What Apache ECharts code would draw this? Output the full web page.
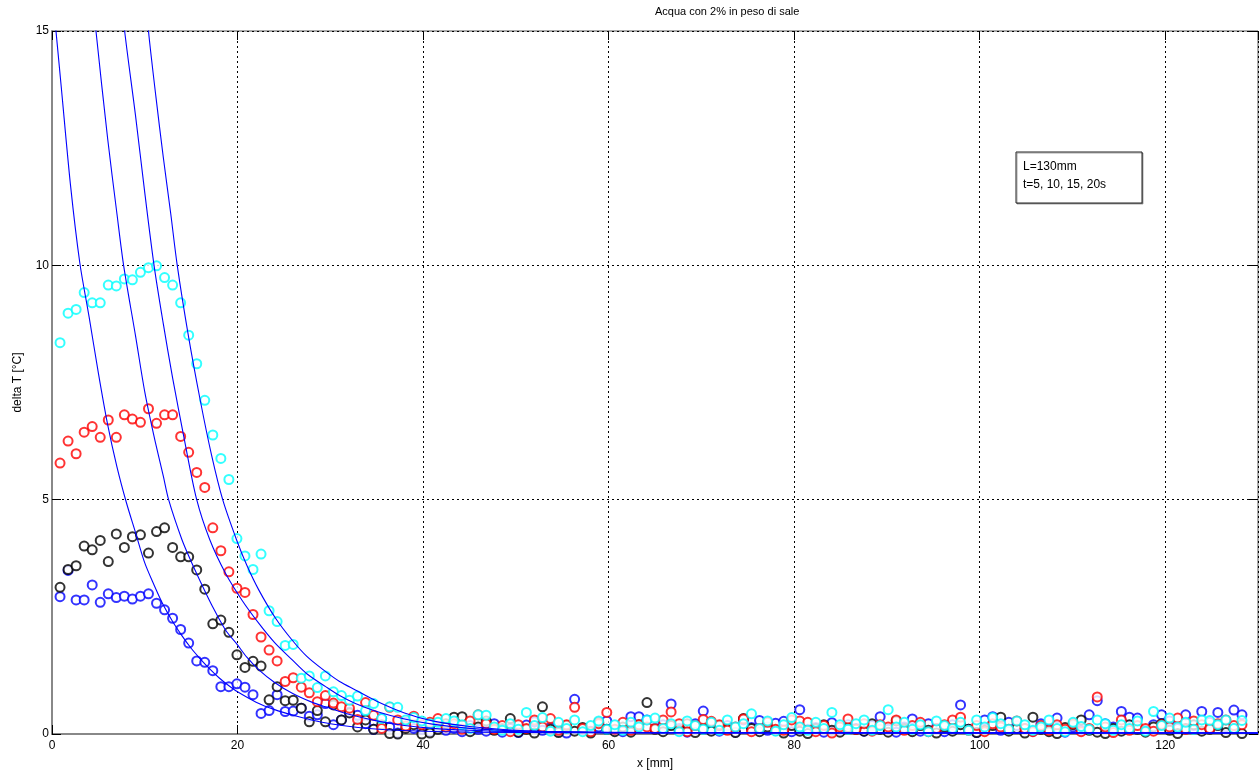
<!DOCTYPE html>
<html>
<head>
<meta charset="utf-8">
<script src="https://cdn.jsdelivr.net/npm/echarts@6/dist/echarts.min.js"></script>
<style>
  html, body { margin: 0; padding: 0; background: #fff; }
  #chart { width: 1259px; height: 778px; }
</style>
</head>
<body>
<div id="chart"></div>
<script>
// Sample spacing of the thermocouple readings along x [mm]
const X_STEP = 0.8667;

// Axis tick labels
const X_TICKS = [0, 20, 40, 60, 80, 100, 120];
const Y_TICKS = [0, 5, 10, 15];

// Measured delta T [°C] at x = k * X_STEP, k = 1..148
const tBlue = [
  2.93, 3.49, 2.86, 2.86, 3.18, 2.81, 2.99, 2.91, 2.94, 2.88,
  2.94, 2.99, 2.79, 2.65, 2.47, 2.23, 1.94, 1.56, 1.53, 1.35,
  1.01, 1.01, 1.07, 1.00, 0.84, 0.44, 0.50, 0.84, 0.48, 0.49,
  0.55, 0.38, 0.41, 0.65, 0.20, 0.30, 0.47, 0.40, 0.22, 0.10,
  0.33, 0.15, 0.02, 0.25, 0.12, 0.10, 0.05, 0.15, 0.08, 0.12,
  0.05, 0.18, 0.10, 0.06, 0.22, 0.04, 0.12, 0.03, 0.19, 0.26,
  0.08, 0.14, 0.05, 0.02, 0.74, 0.10, 0.06, 0.15, 0.28, 0.08,
  0.05, 0.37, 0.37, 0.30, 0.12, 0.20, 0.64, 0.12, 0.04, 0.22,
  0.49, 0.10, 0.06, 0.18, 0.04, 0.30, 0.14, 0.29, 0.08, 0.23,
  0.27, 0.05, 0.52, 0.10, 0.14, 0.04, 0.24, 0.08, 0.20, 0.12,
  0.06, 0.18, 0.37, 0.10, 0.04, 0.15, 0.32, 0.06, 0.22, 0.12,
  0.05, 0.20, 0.62, 0.10, 0.03, 0.30, 0.37, 0.08, 0.25, 0.18,
  0.12, 0.06, 0.22, 0.10, 0.34, 0.04, 0.15, 0.08, 0.41, 0.71,
  0.22, 0.15, 0.48, 0.36, 0.34, 0.08, 0.20, 0.41, 0.28, 0.12,
  0.41, 0.18, 0.48, 0.25, 0.46, 0.15, 0.51, 0.41
];
const tBlack = [
  3.13, 3.51, 3.59, 4.01, 3.93, 4.13, 3.68, 4.27, 3.98, 4.21,
  4.25, 3.86, 4.32, 4.40, 3.98, 3.78, 3.78, 3.50, 3.09, 2.35,
  2.43, 2.17, 1.69, 1.42, 1.55, 1.45, 0.73, 1.01, 0.71, 0.72,
  0.55, 0.26, 0.50, 0.26, 0.62, 0.30, 0.45, 0.15, 0.30, 0.10,
  0.20, 0.01, 0.00, 0.12, 0.20, 0.00, 0.02, 0.10, 0.22, 0.36,
  0.37, 0.05, 0.15, 0.28, 0.08, 0.12, 0.33, 0.04, 0.10, 0.02,
  0.58, 0.10, 0.03, 0.18, 0.06, 0.14, 0.02, 0.25, 0.10, 0.05,
  0.15, 0.04, 0.20, 0.67, 0.10, 0.05, 0.18, 0.08, 0.22, 0.03,
  0.12, 0.06, 0.18, 0.10, 0.03, 0.33, 0.12, 0.05, 0.15, 0.08,
  0.02, 0.18, 0.06, 0.01, 0.12, 0.20, 0.08, 0.04, 0.14, 0.10,
  0.06, 0.22, 0.10, 0.04, 0.28, 0.12, 0.05, 0.18, 0.08, 0.02,
  0.15, 0.06, 0.20, 0.10, 0.03, 0.08, 0.18, 0.36, 0.06, 0.12,
  0.02, 0.36, 0.10, 0.05, 0.01, 0.14, 0.20, 0.30, 0.08, 0.04,
  0.01, 0.12, 0.06, 0.20, 0.10, 0.04, 0.15, 0.22, 0.08, 0.01,
  0.12, 0.20, 0.06, 0.10, 0.18, 0.03, 0.12, 0.01
];
const tRed = [
  5.78, 6.25, 5.98, 6.44, 6.56, 6.33, 6.70, 6.33, 6.81, 6.72,
  6.65, 6.94, 6.63, 6.81, 6.81, 6.35, 6.01, 5.58, 5.26, 4.40,
  3.91, 3.46, 3.11, 3.02, 2.55, 2.07, 1.79, 1.56, 1.12, 1.20,
  1.00, 0.88, 0.69, 0.82, 0.66, 0.58, 0.55, 0.31, 0.67, 0.40,
  0.12, 0.57, 0.30, 0.17, 0.38, 0.20, 0.25, 0.33, 0.15, 0.22,
  0.10, 0.28, 0.41, 0.22, 0.10, 0.18, 0.05, 0.20, 0.12, 0.30,
  0.15, 0.33, 0.08, 0.20, 0.57, 0.12, 0.05, 0.22, 0.46, 0.10,
  0.25, 0.08, 0.20, 0.15, 0.12, 0.30, 0.47, 0.22, 0.05, 0.18,
  0.31, 0.27, 0.20, 0.08, 0.15, 0.32, 0.05, 0.12, 0.25, 0.10,
  0.08, 0.30, 0.28, 0.25, 0.05, 0.18, 0.02, 0.15, 0.32, 0.10,
  0.22, 0.06, 0.20, 0.15, 0.30, 0.08, 0.18, 0.25, 0.05, 0.12,
  0.20, 0.30, 0.36, 0.08, 0.18, 0.05, 0.22, 0.15, 0.10, 0.28,
  0.12, 0.05, 0.18, 0.08, 0.20, 0.10, 0.22, 0.05, 0.12, 0.79,
  0.15, 0.03, 0.30, 0.08, 0.18, 0.12, 0.06, 0.20, 0.15, 0.34,
  0.10, 0.28, 0.20, 0.12, 0.22, 0.30, 0.18, 0.20
];
const tCyan = [
  8.35, 8.98, 9.06, 9.42, 9.20, 9.20, 9.58, 9.56, 9.71, 9.69,
  9.85, 9.95, 9.99, 9.74, 9.58, 9.20, 8.51, 7.90, 7.12, 6.38,
  5.88, 5.43, 4.17, 3.80, 3.51, 3.84, 2.63, 2.40, 1.89, 1.91,
  1.19, 1.24, 0.99, 1.24, 0.90, 0.82, 0.72, 0.81, 0.50, 0.65,
  0.33, 0.58, 0.57, 0.30, 0.35, 0.28, 0.22, 0.25, 0.33, 0.28,
  0.20, 0.12, 0.41, 0.40, 0.15, 0.08, 0.22, 0.10, 0.46, 0.18,
  0.35, 0.06, 0.25, 0.12, 0.30, 0.05, 0.18, 0.28, 0.10, 0.20,
  0.08, 0.25, 0.15, 0.30, 0.34, 0.12, 0.22, 0.05, 0.28, 0.18,
  0.10, 0.25, 0.08, 0.30, 0.15, 0.22, 0.43, 0.12, 0.28, 0.06,
  0.20, 0.35, 0.15, 0.08, 0.25, 0.12, 0.46, 0.20, 0.10, 0.22,
  0.30, 0.08, 0.18, 0.52, 0.15, 0.25, 0.10, 0.20, 0.05, 0.28,
  0.18, 0.12, 0.25, 0.08, 0.30, 0.15, 0.35, 0.22, 0.10, 0.28,
  0.20, 0.08, 0.15, 0.30, 0.12, 0.05, 0.25, 0.16, 0.10, 0.30,
  0.22, 0.08, 0.20, 0.12, 0.28, 0.06, 0.48, 0.18, 0.34, 0.15,
  0.25, 0.10, 0.30, 0.29, 0.20, 0.30, 0.12, 0.29
];

// Model curves for t = 5, 10, 15, 20 s : [x mm, delta T]
const model5 = [
  [0, 15.9], [1, 13.8], [2, 11.7], [3, 10.05], [4, 8.9], [5, 7.7], [6, 6.6],
  [7, 5.7], [8, 4.95], [9, 4.3], [10, 3.65], [11, 3.18], [12, 2.75], [13, 2.4],
  [14, 2.1], [15, 1.83], [16, 1.6], [17, 1.39], [18, 1.2], [19, 1.04], [20, 0.9],
  [22, 0.68], [24, 0.52], [26, 0.4], [28, 0.3], [30, 0.22], [33, 0.14], [36, 0.09],
  [40, 0.06], [45, 0.04], [55, 0.03], [130, 0.02]
];
const model10 = [
  [4, 16.5], [4.74, 15], [6, 12.7], [7, 11.1], [7.72, 10], [9, 8.5], [10, 7.3],
  [11, 6.35], [12, 5.5], [12.57, 5], [14, 4.15], [15, 3.68], [16, 3.25], [17.3, 2.72],
  [18.7, 2.22], [20, 1.9], [21, 1.64], [22.3, 1.37], [24, 1.1], [25.9, 0.87],
  [28, 0.68], [29.5, 0.58], [32, 0.42], [35, 0.28], [38, 0.18], [41, 0.12],
  [45, 0.08], [50, 0.05], [60, 0.03], [130, 0.02]
];
const model15 = [
  [7, 16.6], [7.83, 15], [9, 13.2], [10, 11.55], [11, 10], [12, 8.75], [13, 7.6],
  [14.3, 6.25], [15.6, 5], [17, 4.15], [18.7, 3.43], [20.5, 2.85], [22.3, 2.36],
  [24, 1.95], [25.9, 1.58], [27.5, 1.28], [29.5, 1.01], [31, 0.82], [32.7, 0.65],
  [35, 0.48], [38, 0.32], [41, 0.21], [45, 0.12], [50, 0.07], [60, 0.03], [130, 0.02]
];
const model20 = [
  [9.5, 17], [10.4, 15], [11.2, 13.6], [12, 12.3], [12.8, 11.1], [13.5, 10],
  [14.7, 8.5], [16, 7.1], [17.2, 5.95], [18.4, 5], [19.9, 4.14], [21, 3.6],
  [22.3, 3.07], [24.1, 2.47], [25.9, 2.0], [27.5, 1.65], [29.5, 1.33], [31, 1.12],
  [32.7, 0.94], [35, 0.7], [38, 0.45], [41, 0.28], [45, 0.16], [50, 0.08],
  [55, 0.05], [65, 0.03], [130, 0.02]
];

function pairs(values) {
  return values.map((v, i) => [(i + 1) * X_STEP, v]);
}

const FONT = 'Liberation Sans, Arial, sans-serif';

function scatter(name, color, values) {
  return {
    name, type: 'scatter', data: pairs(values),
    symbol: 'emptyCircle', symbolSize: 9,
    itemStyle: { color: color, borderColor: color, borderWidth: 1 },
    emphasis: { disabled: true }, silent: true, z: 3
  };
}
function curve(name, pts) {
  return {
    name, type: 'line', data: pts, showSymbol: false,
    smooth: 0.3, clip: true,
    lineStyle: { color: '#0000ff', width: 1.1 },
    emphasis: { disabled: true }, silent: true, z: 4
  };
}

const chart = echarts.init(document.getElementById('chart'), null, { renderer: 'canvas' });

const gridLine = { show: true, lineStyle: { color: '#000', type: [2, 3], width: 1 } };
// Short ticks pointing into the plot box, on all four sides
const tick = { show: true, inside: true, length: 9, lineStyle: { color: '#000', width: 1 } };

chart.setOption({
  animation: false,
  backgroundColor: '#fff',
  grid: { left: 52, top: 31, right: 1, bottom: 44, show: true, borderColor: '#555', borderWidth: 1 },
  xAxis: [
    {
      type: 'value', min: 0, max: 130, interval: 20,
      axisLine: { show: true, onZero: false, lineStyle: { color: '#888', width: 2 } },
      axisTick: tick,
      axisLabel: {
        color: '#000', fontFamily: FONT, fontSize: 12, margin: 6, showMaxLabel: false,
        formatter: v => (X_TICKS.indexOf(v) >= 0 ? String(v) : '')
      },
      splitLine: gridLine,
      name: 'x [mm]', nameLocation: 'middle', nameGap: 24,
      nameTextStyle: { color: '#000', fontFamily: FONT, fontSize: 12 }
    },
    {
      type: 'value', min: 0, max: 130, interval: 20, position: 'top',
      axisLine: { show: false, onZero: false },
      axisTick: tick,
      axisLabel: { show: false }, splitLine: { show: false }
    }
  ],
  yAxis: [
    {
      type: 'value', min: 0, max: 15, interval: 5,
      axisLine: { show: true, onZero: false, lineStyle: { color: '#888', width: 2 } },
      axisTick: tick,
      axisLabel: {
        color: '#000', fontFamily: FONT, fontSize: 12, margin: 3,
        formatter: v => (Y_TICKS.indexOf(v) >= 0 ? String(v) : '')
      },
      splitLine: gridLine,
      name: 'delta T [°C]', nameLocation: 'middle', nameGap: 28, nameRotate: 90,
      nameTextStyle: { color: '#000', fontFamily: FONT, fontSize: 12 }
    },
    {
      type: 'value', min: 0, max: 15, interval: 5, position: 'right',
      axisLine: { show: false, onZero: false },
      axisTick: tick,
      axisLabel: { show: false }, splitLine: { show: false }
    }
  ],
  graphic: [
    {
      type: 'text', left: 655, top: 6,
      style: { text: 'Acqua con 2% in peso di sale', fill: '#000', font: '11px ' + FONT, textAlign: 'center' }
    },
    {
      type: 'rect', shape: { x: 1016, y: 152, width: 126, height: 51 },
      style: { fill: '#fff', stroke: '#222', lineWidth: 1, shadowColor: 'rgba(0,0,0,0.35)', shadowOffsetX: 1, shadowOffsetY: 1 },
      z: 10
    },
    {
      type: 'text', x: 1023, y: 158, z: 11,
      style: { text: 'L=130mm\nt=5, 10, 15, 20s', fill: '#000', font: '12px ' + FONT, lineHeight: 18 }
    }
  ],
  series: [
    scatter('t=5s', '#0000ff', tBlue),
    scatter('t=10s', '#000000', tBlack),
    scatter('t=15s', '#ff0000', tRed),
    scatter('t=20s', '#00ffff', tCyan),
    curve('model t=5s', model5),
    curve('model t=10s', model10),
    curve('model t=15s', model15),
    curve('model t=20s', model20)
  ]
});
</script>
</body>
</html>
